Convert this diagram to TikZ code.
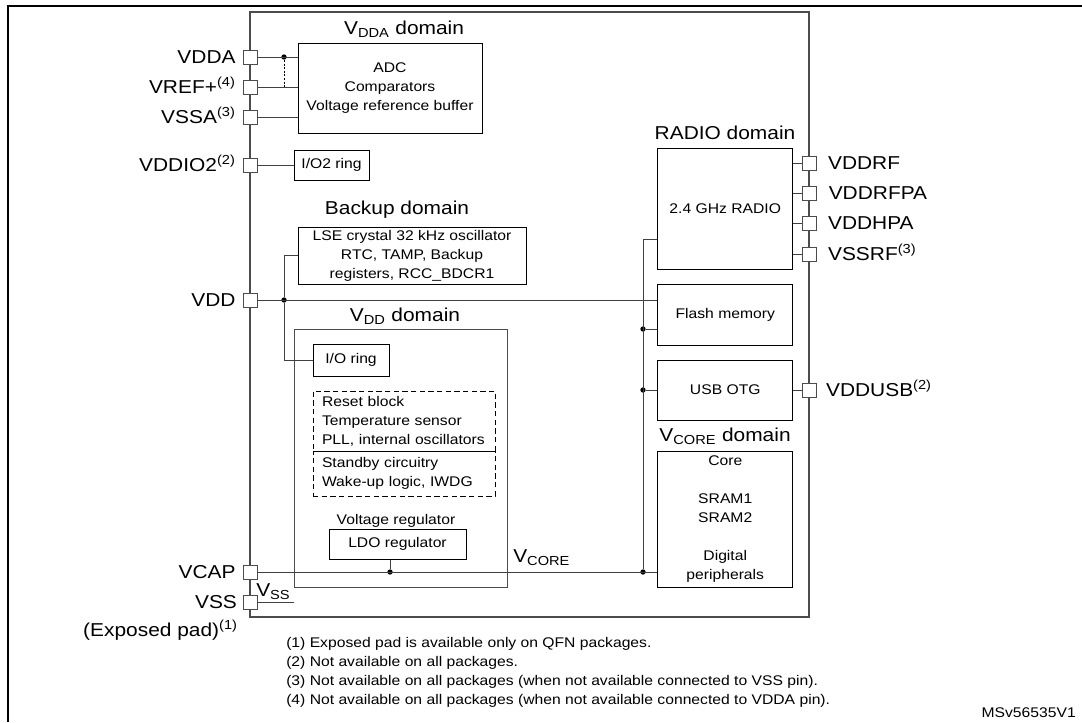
\documentclass[tikz,border=0pt]{standalone}
\usepackage{fontspec}
\setmainfont{Liberation Sans}[FakeStretch=1.12]
\usetikzlibrary{fit,positioning}

\begin{document}
\begin{tikzpicture}[x=0.75pt, y=-0.75pt,
  box/.style={draw, line width=0.75pt, inner sep=0pt, align=center, font=\fontsize{10.5}{14.25}\selectfont},
  dashbox/.style={box, dash pattern=on 4pt off 2.5pt, text width=123pt, align=left},
  padbox/.style={draw=black!70, fill=white, line width=0.75pt, minimum size=10.5pt, inner sep=0pt},
  padlabel/.style={font=\fontsize{14}{16}\selectfont, inner sep=0pt, text height=10pt, text depth=0pt},
  domainlabel/.style={font=\fontsize{14}{16}\selectfont, inner sep=0pt, text height=10pt, text depth=0pt},
  smalllabel/.style={font=\fontsize{10.5}{14}\selectfont, inner sep=0pt, text height=7.5pt, text depth=0pt},
  note/.style={font=\fontsize{10.5}{12}\selectfont, inner sep=0pt, text height=7.5pt, text depth=0pt, anchor=west},
  wire/.style={draw=black!75, line width=0.75pt},
  junction/.style={circle, fill, inner sep=0pt, minimum size=4pt}]
  \useasboundingbox (0,0) rectangle (1082,722);
  \draw[line width=1.5pt] (8,722) -- (8,6) -- (1082,6);

  % chip and blocks
  \node[draw=black!70, line width=1pt, inner sep=0pt, fit={(250,12) (809,617)}] (CHIP) {};
  \node[box, minimum width=138pt, minimum height=67.5pt] (ADC) at (390,88) {ADC\\Comparators\\Voltage reference buffer};
  \node[box, minimum width=56.25pt, minimum height=22.5pt] (IOTWO) at (331.5,165) {I/O2 ring};
  \node[box, minimum width=171pt, minimum height=42.75pt] (BKP) at (412,255.5) {LSE crystal 32 kHz oscillator\\RTC, TAMP, Backup\\registers, RCC\_BDCR1};
  \node[box, draw=black!70, fit={(294,329) (507,587)}] (VDDBOX) {};
  \node[box, minimum width=57pt, minimum height=24pt] (IORING) at (351,360) {I/O ring};
  \node[dashbox, minimum width=136.5pt, minimum height=45pt] (RESET) at (404,421) {Reset block\\Temperature sensor\\PLL, internal oscillators};
  \node[dashbox, minimum width=136.5pt, minimum height=33.75pt] (STBY) at (404,473.5) {Standby circuitry\\Wake-up logic, IWDG};
  \node[box, minimum width=102.75pt, minimum height=22.5pt] (LDO) at (397.5,544) {LDO regulator};
  \node[box, minimum width=101.6pt, minimum height=90.75pt] (RADIO) at (725.25,208.5) {2.4 GHz RADIO};
  \node[box, minimum width=101.6pt, minimum height=45.75pt] (FLASH) at (725.25,314.5) {Flash memory};
  \node[box, minimum width=101.6pt, minimum height=45pt] (USB) at (725.25,390) {USB OTG};
  \node[box, minimum width=101.6pt, minimum height=102pt] (CORE) at (725.25,519) {Core\\[14.25pt]SRAM1\\SRAM2\\[14.25pt]Digital\\peripherals};

  % domain labels
  \node[domainlabel] (LDDA) at (404,28) {V\textsubscript{DDA} domain};
  \node[domainlabel] (LBKP) at (397,208) {Backup domain};
  \node[domainlabel] (LVDD) at (405,315) {V\textsubscript{DD} domain};
  \node[domainlabel] (LRADIO) at (725,133) {RADIO domain};
  \node[domainlabel] (LCORE) at (725,435) {V\textsubscript{CORE} domain};
  \node[smalllabel] (LREG) at (396,519) {Voltage regulator};
  \node[padlabel, anchor=west] (LVCORE) at (513,556) {V\textsubscript{CORE}};
  \node[padlabel, anchor=west] (LVSS) at (256,590) {V\textsubscript{SS}};

  % junctions
  \node[junction] (DVDDA) at (284,57) {};
  \node[junction] (DVDD) at (284,300) {};
  \node[junction] (DLDO) at (390,572) {};
  \node[junction] (DFLASH) at (643,329) {};
  \node[junction] (DUSB) at (643,390) {};
  \node[junction] (DCORE) at (643,572) {};
  \coordinate (JRADIO) at (643,239);

  % wires
  \draw[wire] (250,57) -- (ADC.west |- DVDDA);
  \draw[wire, draw=black, dash pattern=on 1.5pt off 1.2pt] (DVDDA) -- (284,87);
  \draw[wire] (250,87) -- (ADC.west |- 0,87);
  \draw[wire] (250,117) -- (ADC.west |- 0,117);
  \draw[wire] (250,165) -- (IOTWO.west);
  \draw[wire] (250,300) -- (FLASH.west |- DVDD);
  \draw[wire] (DVDD) |- (BKP.west);
  \draw[wire] (DVDD) |- (IORING.west);
  \draw[wire] (250,572) -- (CORE.west |- DCORE);
  \draw[wire] (LDO.south -| DLDO) -- (DLDO);
  \draw[wire] (250,602) -- (VDDBOX.west |- 0,602);
  \draw[wire] (RADIO.west |- JRADIO) -- (JRADIO) -- (DCORE);
  \draw[wire] (DFLASH) -- (FLASH.west |- DFLASH);
  \draw[wire] (DUSB) -- (USB.west);
  \draw[wire] (RADIO.east |- 0,163) -- (809,163);
  \draw[wire] (RADIO.east |- 0,193) -- (809,193);
  \draw[wire] (RADIO.east |- 0,223) -- (809,223);
  \draw[wire] (RADIO.east |- 0,254) -- (809,254);
  \draw[wire] (USB.east) -- (809,390);

  % pads
  \node[padbox] (PVDDA) at (250,57) {};
  \node[padbox] (PVREF) at (250,87) {};
  \node[padbox] (PVSSA) at (250,117) {};
  \node[padbox] (PVDDIO) at (250,165) {};
  \node[padbox] (PVDD) at (250,300) {};
  \node[padbox] (PVCAP) at (250,572) {};
  \node[padbox] (PVSS) at (250,602) {};
  \node[padbox] (PVDDRF) at (809,163) {};
  \node[padbox] (PVDDRFPA) at (809,193) {};
  \node[padbox] (PVDDHPA) at (809,223) {};
  \node[padbox] (PVSSRF) at (809,254) {};
  \node[padbox] (PVDDUSB) at (809,390) {};

  % pad names
  \node[padlabel, left=5pt of PVDDA] (VDDA) {VDDA};
  \node[padlabel, left=5pt of PVREF] (VREF) {VREF+\textsuperscript{(4)}};
  \node[padlabel, left=5pt of PVSSA] (VSSA) {VSSA\textsuperscript{(3)}};
  \node[padlabel, left=5pt of PVDDIO] (VDDIO) {VDDIO2\textsuperscript{(2)}};
  \node[padlabel, left=5pt of PVDD] (VDD) {VDD};
  \node[padlabel, left=5pt of PVCAP] (VCAP) {VCAP};
  \node[padlabel, left=4pt of PVSS] (VSS) {VSS};
  \node[padlabel, anchor=east] (EXPOSED) at (238,630) {(Exposed pad)\textsuperscript{(1)}};
  \node[padlabel, right=8.5pt of PVDDRF] (VDDRF) {VDDRF};
  \node[padlabel, right=9pt of PVDDRFPA] (VDDRFPA) {VDDRFPA};
  \node[padlabel, right=8.5pt of PVDDHPA] (VDDHPA) {VDDHPA};
  \node[padlabel, right=8.5pt of PVSSRF] (VSSRF) {VSSRF\textsuperscript{(3)}};
  \node[padlabel, right=7pt of PVDDUSB] (VDDUSB) {VDDUSB\textsuperscript{(2)}};

  % notes
  \node[note] (NOTEA) at (286,642) {(1) Exposed pad is available only on QFN packages.};
  \node[note] (NOTEB) at (286,661) {(2) Not available on all packages.};
  \node[note] (NOTEC) at (286,680) {(3) Not available on all packages (when not available connected to VSS pin).};
  \node[note] (NOTED) at (286,699) {(4) Not available on all packages (when not available connected to VDDA pin).};
  \node[note, anchor=east] (MSV) at (1076,712) {MSv56535V1};
\end{tikzpicture}
\end{document}
